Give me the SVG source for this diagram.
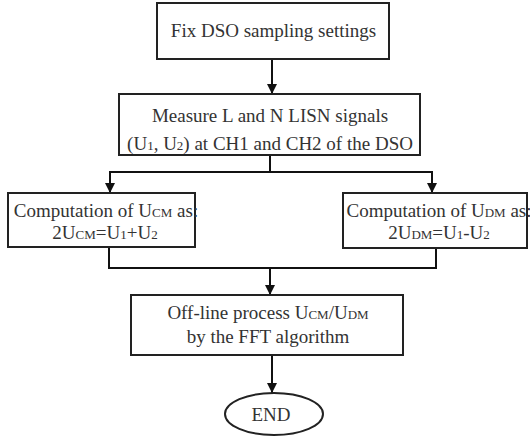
<svg xmlns="http://www.w3.org/2000/svg" width="530" height="439" viewBox="0 0 530 439">
<defs>
<marker id="ah" viewBox="0 0 10 10" refX="10" refY="5" markerWidth="5" markerHeight="5.5" markerUnits="strokeWidth" orient="auto">
<path d="M0,0 L10,5 L0,10 Z" fill="#111"/>
</marker>
<style>
.box{fill:#fff;stroke:#222;stroke-width:2}
.t{font-family:'Liberation Serif','DejaVu Serif',serif;font-size:19px;fill:#333;text-anchor:middle}
.s{font-size:13px}
.c{fill:none;stroke:#111;stroke-width:2}
.a{fill:none;stroke:#111;stroke-width:2;marker-end:url(#ah)}
</style>
</defs>
<rect width="530" height="439" fill="#fff"/>
<g id="connectors">
<line class="a" x1="272" y1="59" x2="272" y2="94"/>
<line class="c" x1="270" y1="155" x2="270" y2="172"/>
<line class="c" x1="109" y1="172" x2="433" y2="172"/>
<line class="a" x1="110" y1="172" x2="110" y2="193"/>
<line class="a" x1="432" y1="172" x2="432" y2="193"/>
<polyline class="c" points="109,247 109,268 436,268 436,248"/>
<line class="a" x1="270" y1="268" x2="270" y2="295"/>
<line class="a" x1="272" y1="355" x2="272" y2="393"/>
</g>
<g id="n1">
<rect class="box" x="157" y="3" width="232" height="56"/>
<text class="t" x="273.5" y="37">Fix DSO sampling settings</text>
</g>
<g id="n2">
<rect class="box" x="119" y="94" width="301" height="61"/>
<text class="t" x="270" y="122">Measure L and N LISN signals</text>
<text class="t" x="270" y="150">(U<tspan class="s">1</tspan>, U<tspan class="s">2</tspan>) at CH1 and CH2 of the DSO</text>
</g>
<g id="n3">
<rect class="box" x="8" y="193" width="187" height="54"/>
<text class="t" x="106" y="217">Computation of U<tspan class="s">CM</tspan> as:</text>
<text class="t" x="105" y="239">2U<tspan class="s">CM</tspan>=U<tspan class="s">1</tspan>+U<tspan class="s">2</tspan></text>
</g>
<g id="n4">
<rect class="box" x="343" y="193" width="184" height="55"/>
<text class="t" x="439" y="217">Computation of U<tspan class="s">DM</tspan> as:</text>
<text class="t" x="439" y="239">2U<tspan class="s">DM</tspan>=U<tspan class="s">1</tspan>-U<tspan class="s">2</tspan></text>
</g>
<g id="n5">
<rect class="box" x="131" y="295" width="272" height="60"/>
<text class="t" x="268" y="319">Off-line process U<tspan class="s">CM</tspan>/U<tspan class="s">DM</tspan></text>
<text class="t" x="268" y="343">by the FFT algorithm</text>
</g>
<g id="n6">
<ellipse class="box" cx="274" cy="414" rx="49" ry="21"/>
<text class="t" x="271" y="421">END</text>
</g>
</svg>
